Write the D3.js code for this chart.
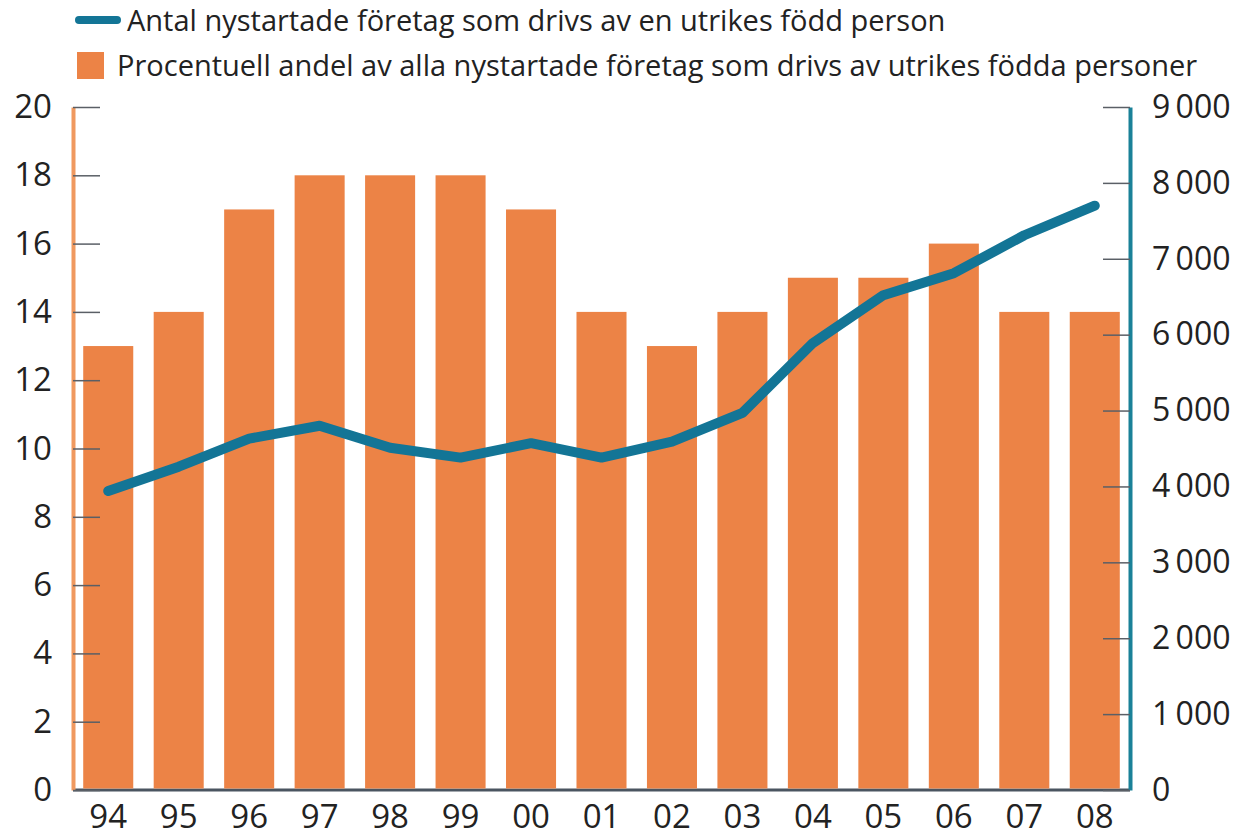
<!DOCTYPE html>
<html lang="sv">
  <head>
    <meta charset="UTF-8" />
    <title>Nystartade företag</title>
    <script src="https://d3js.org/d3.v7.min.js"></script>
    <style>
      body { margin: 0; background: #fff; }
      text { font-family: "Open Sans", sans-serif; fill: #222; }
    </style>
  </head>
  <body>
    <div id="chart"></div>
    <script>
      // Data
      const years = ["94", "95", "96", "97", "98", "99", "00", "01", "02", "03", "04", "05", "06", "07", "08"];
      const share = [13, 14, 17, 18, 18, 18, 17, 14, 13, 14, 15, 15, 16, 14, 14];
      const count = [3940, 4260, 4630, 4800, 4510, 4380, 4570, 4380, 4590, 4970, 5890, 6520, 6810, 7310, 7700];
      const leftTicks = [0, 2, 4, 6, 8, 10, 12, 14, 16, 18, 20];
      const rightTicks = [0, 1000, 2000, 3000, 4000, 5000, 6000, 7000, 8000, 9000];
      const legendLine = "Antal nystartade företag som drivs av en utrikes född person";
      const legendBar = "Procentuell andel av alla nystartade företag som drivs av utrikes födda personer";

      const W = 1249, H = 839;
      const plot = { left: 73, right: 1130, top: 107, bottom: 790 };
      const orange = "#ec8346";
      const teal = "#137596";

      const svg = d3.select("#chart").append("svg")
        .attr("width", W)
        .attr("height", H);

      const x = d3.scaleBand()
        .domain(years)
        .range([plot.left, plot.right])
        .paddingInner(0.29)
        .paddingOuter(0.145);

      const yL = d3.scaleLinear().domain([0, 20]).range([plot.bottom, plot.top]);
      const yR = d3.scaleLinear().domain([0, 9000]).range([plot.bottom, plot.top]);

      // baseline (shows between the bars)
      svg.append("line")
        .attr("x1", plot.left).attr("x2", plot.right)
        .attr("y1", plot.bottom).attr("y2", plot.bottom)
        .attr("stroke", "#4a5560")
        .attr("stroke-width", 3);

      // bars
      svg.append("g")
        .selectAll("rect")
        .data(share)
        .join("rect")
        .attr("x", (d, i) => x(years[i]))
        .attr("y", d => yL(d))
        .attr("width", x.bandwidth())
        .attr("height", d => plot.bottom - 1.5 - yL(d))
        .attr("fill", orange);

      // left axis
      const gl = svg.append("g")
        .attr("transform", `translate(${plot.left},0)`)
        .call(d3.axisLeft(yL).tickValues(leftTicks).tickSizeInner(-27).tickSizeOuter(0).tickPadding(21));
      gl.select(".domain").attr("stroke", "#f0995f").attr("stroke-width", 4);
      gl.selectAll(".tick line").attr("stroke", "#5a5f66").attr("stroke-width", 1.5);
      gl.selectAll("text").style("font-size", "33px").attr("fill", "#222");

      // right axis
      const gr = svg.append("g")
        .attr("transform", `translate(${plot.right},0)`)
        .call(d3.axisRight(yR).tickValues(rightTicks).tickSizeInner(-27).tickSizeOuter(0).tickPadding(22)
          .tickFormat(d => d3.format(",")(d).replace(",", "\u2009")));
      gr.select(".domain").attr("stroke", "#1a8198").attr("stroke-width", 4);
      gr.selectAll(".tick line").attr("stroke", "#5a5f66").attr("stroke-width", 1.5);
      gr.selectAll("text").style("font-size", "32px").attr("fill", "#222");

      // bottom labels
      const gb = svg.append("g")
        .attr("transform", `translate(0,${plot.bottom})`)
        .call(d3.axisBottom(x).tickSize(0).tickPadding(15));
      gb.select(".domain").remove();
      gb.selectAll("text").style("font-size", "33px").attr("fill", "#222");

      // line
      const line = d3.line()
        .x((d, i) => x(years[i]) + x.bandwidth() / 2)
        .y(d => yR(d));

      svg.append("path")
        .datum(count)
        .attr("d", line)
        .attr("fill", "none")
        .attr("stroke", teal)
        .attr("stroke-width", 10)
        .attr("stroke-linejoin", "round")
        .attr("stroke-linecap", "round");

      // legend
      const lg = svg.append("g");
      lg.append("line")
        .attr("x1", 79).attr("x2", 117)
        .attr("y1", 20).attr("y2", 20)
        .attr("stroke", teal)
        .attr("stroke-width", 8)
        .attr("stroke-linecap", "round");
      lg.append("text")
        .attr("x", 127).attr("y", 31)
        .style("font-size", "29px")
        .text(legendLine);
      lg.append("rect")
        .attr("x", 77).attr("y", 52)
        .attr("width", 27).attr("height", 27)
        .attr("fill", orange);
      lg.append("text")
        .attr("x", 117).attr("y", 76)
        .style("font-size", "29px")
        .text(legendBar);
    </script>
  </body>
</html>
